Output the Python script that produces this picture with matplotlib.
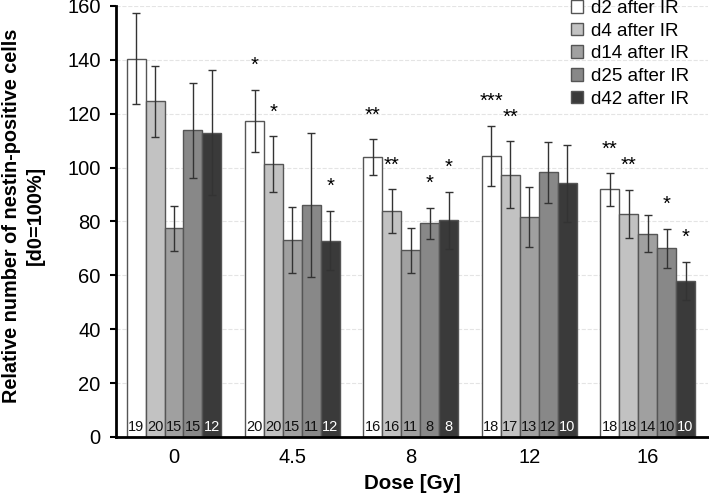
import numpy as np
import matplotlib
matplotlib.use("Agg")
import matplotlib.pyplot as plt

plt.rcParams['font.family'] = ['Liberation Sans', 'DejaVu Sans']

# data
doses = ['0', '4.5', '8', '12', '16']
series = ['d2 after IR', 'd4 after IR', 'd14 after IR', 'd25 after IR', 'd42 after IR']
colors = ['#ffffff', '#c2c2c2', '#a0a0a0', '#888888', '#3a3a3a']

d2 = [140.5, 117.3, 103.8, 104.3, 91.9]
d4 = [124.6, 101.3, 83.8, 97.4, 82.8]
d14 = [77.5, 73.1, 69.3, 81.6, 75.5]
d25 = [113.8, 86.2, 79.3, 98.2, 70.0]
d42 = [113.0, 72.9, 80.4, 94.2, 57.9]

d2_err = [17.0, 11.5, 6.7, 11.3, 6.0]
d4_err = [13.3, 10.3, 8.2, 12.4, 8.9]
d14_err = [8.4, 12.2, 8.3, 11.2, 6.8]
d25_err = [17.5, 26.8, 5.8, 11.2, 7.2]
d42_err = [23.2, 11.0, 10.6, 14.3, 7.2]

# n per bar
d2_n = [19, 20, 16, 18, 18]
d4_n = [20, 20, 16, 17, 18]
d14_n = [15, 15, 11, 13, 14]
d25_n = [15, 11, 8, 12, 10]
d42_n = [12, 12, 8, 10, 10]

# significance marks
d2_sig = ['', '*', '**', '***', '**']
d4_sig = ['', '*', '**', '**', '**']
d14_sig = ['', '', '', '', '']
d25_sig = ['', '', '*', '', '*']
d42_sig = ['', '*', '*', '', '*']

values = [d2, d4, d14, d25, d42]
errors = [d2_err, d4_err, d14_err, d25_err, d42_err]
counts = [d2_n, d4_n, d14_n, d25_n, d42_n]
sigs = [d2_sig, d4_sig, d14_sig, d25_sig, d42_sig]

fig = plt.figure(figsize=(7.09, 4.94), dpi=100)
ax = fig.add_axes([0.1636, 0.1154, 0.835, 0.8725])

x = np.arange(len(doses))
w = 0.16

for i, name in enumerate(series):
    pos = x + (i - 2) * w
    ax.bar(pos, values[i], w, color=colors[i], edgecolor='#555555',
           linewidth=1, label=name, zorder=2)
    ax.errorbar(pos, values[i], yerr=errors[i], fmt='none', ecolor='#333333',
                elinewidth=1, capsize=3, capthick=1, zorder=3)
    txt_col = 'white' if i == 4 else '#111111'
    for p, n in zip(pos, counts[i]):
        ax.text(p, 1.2, str(n), ha='center', va='bottom', fontsize=10.5,
                color=txt_col, zorder=4)
    for p, v, e, s in zip(pos, values[i], errors[i], sigs[i]):
        if s:
            ax.annotate(s, (p, v + e), xytext=(0, 13.5), textcoords='offset points',
                        ha='center', va='baseline', fontsize=14.5, zorder=4)

ax.set_xlim(-0.49, 4.51)
ax.set_ylim(0, 160)
ax.set_yticks(range(0, 161, 20))
ax.set_xticks(x)
ax.set_xticklabels(doses)
ax.tick_params(axis='x', length=0, pad=8, labelsize=14.5)
ax.tick_params(axis='y', length=4, width=1.5, pad=7, labelsize=14.5)

ax.yaxis.grid(True, linestyle='--', color='#e4e4e4', linewidth=0.8, zorder=0)
ax.set_axisbelow(True)

for side in ['top', 'right']:
    ax.spines[side].set_visible(False)
ax.spines['left'].set_linewidth(2)
ax.spines['bottom'].set_linewidth(2)

ax.set_ylabel('Relative number of nestin-positive cells\n[d0=100%]',
              fontsize=14.3, fontweight='bold', linespacing=1.3)
ax.yaxis.set_label_coords(-0.156, 0.514)
ax.yaxis.label.set_va('center')
ax.set_xlabel('Dose [Gy]', fontsize=14.8, fontweight='bold')
ax.xaxis.set_label_coords(0.5, -0.107)
ax.xaxis.label.set_va('center')

ax.legend(loc='upper left', bbox_to_anchor=(0.795, 1.015),
          bbox_transform=fig.transFigure, frameon=False, fontsize=13.5,
          handlelength=0.65, handleheight=0.65, handletextpad=0.4,
          labelspacing=0.3, borderaxespad=0)

fig.savefig('out.png', dpi=100)
